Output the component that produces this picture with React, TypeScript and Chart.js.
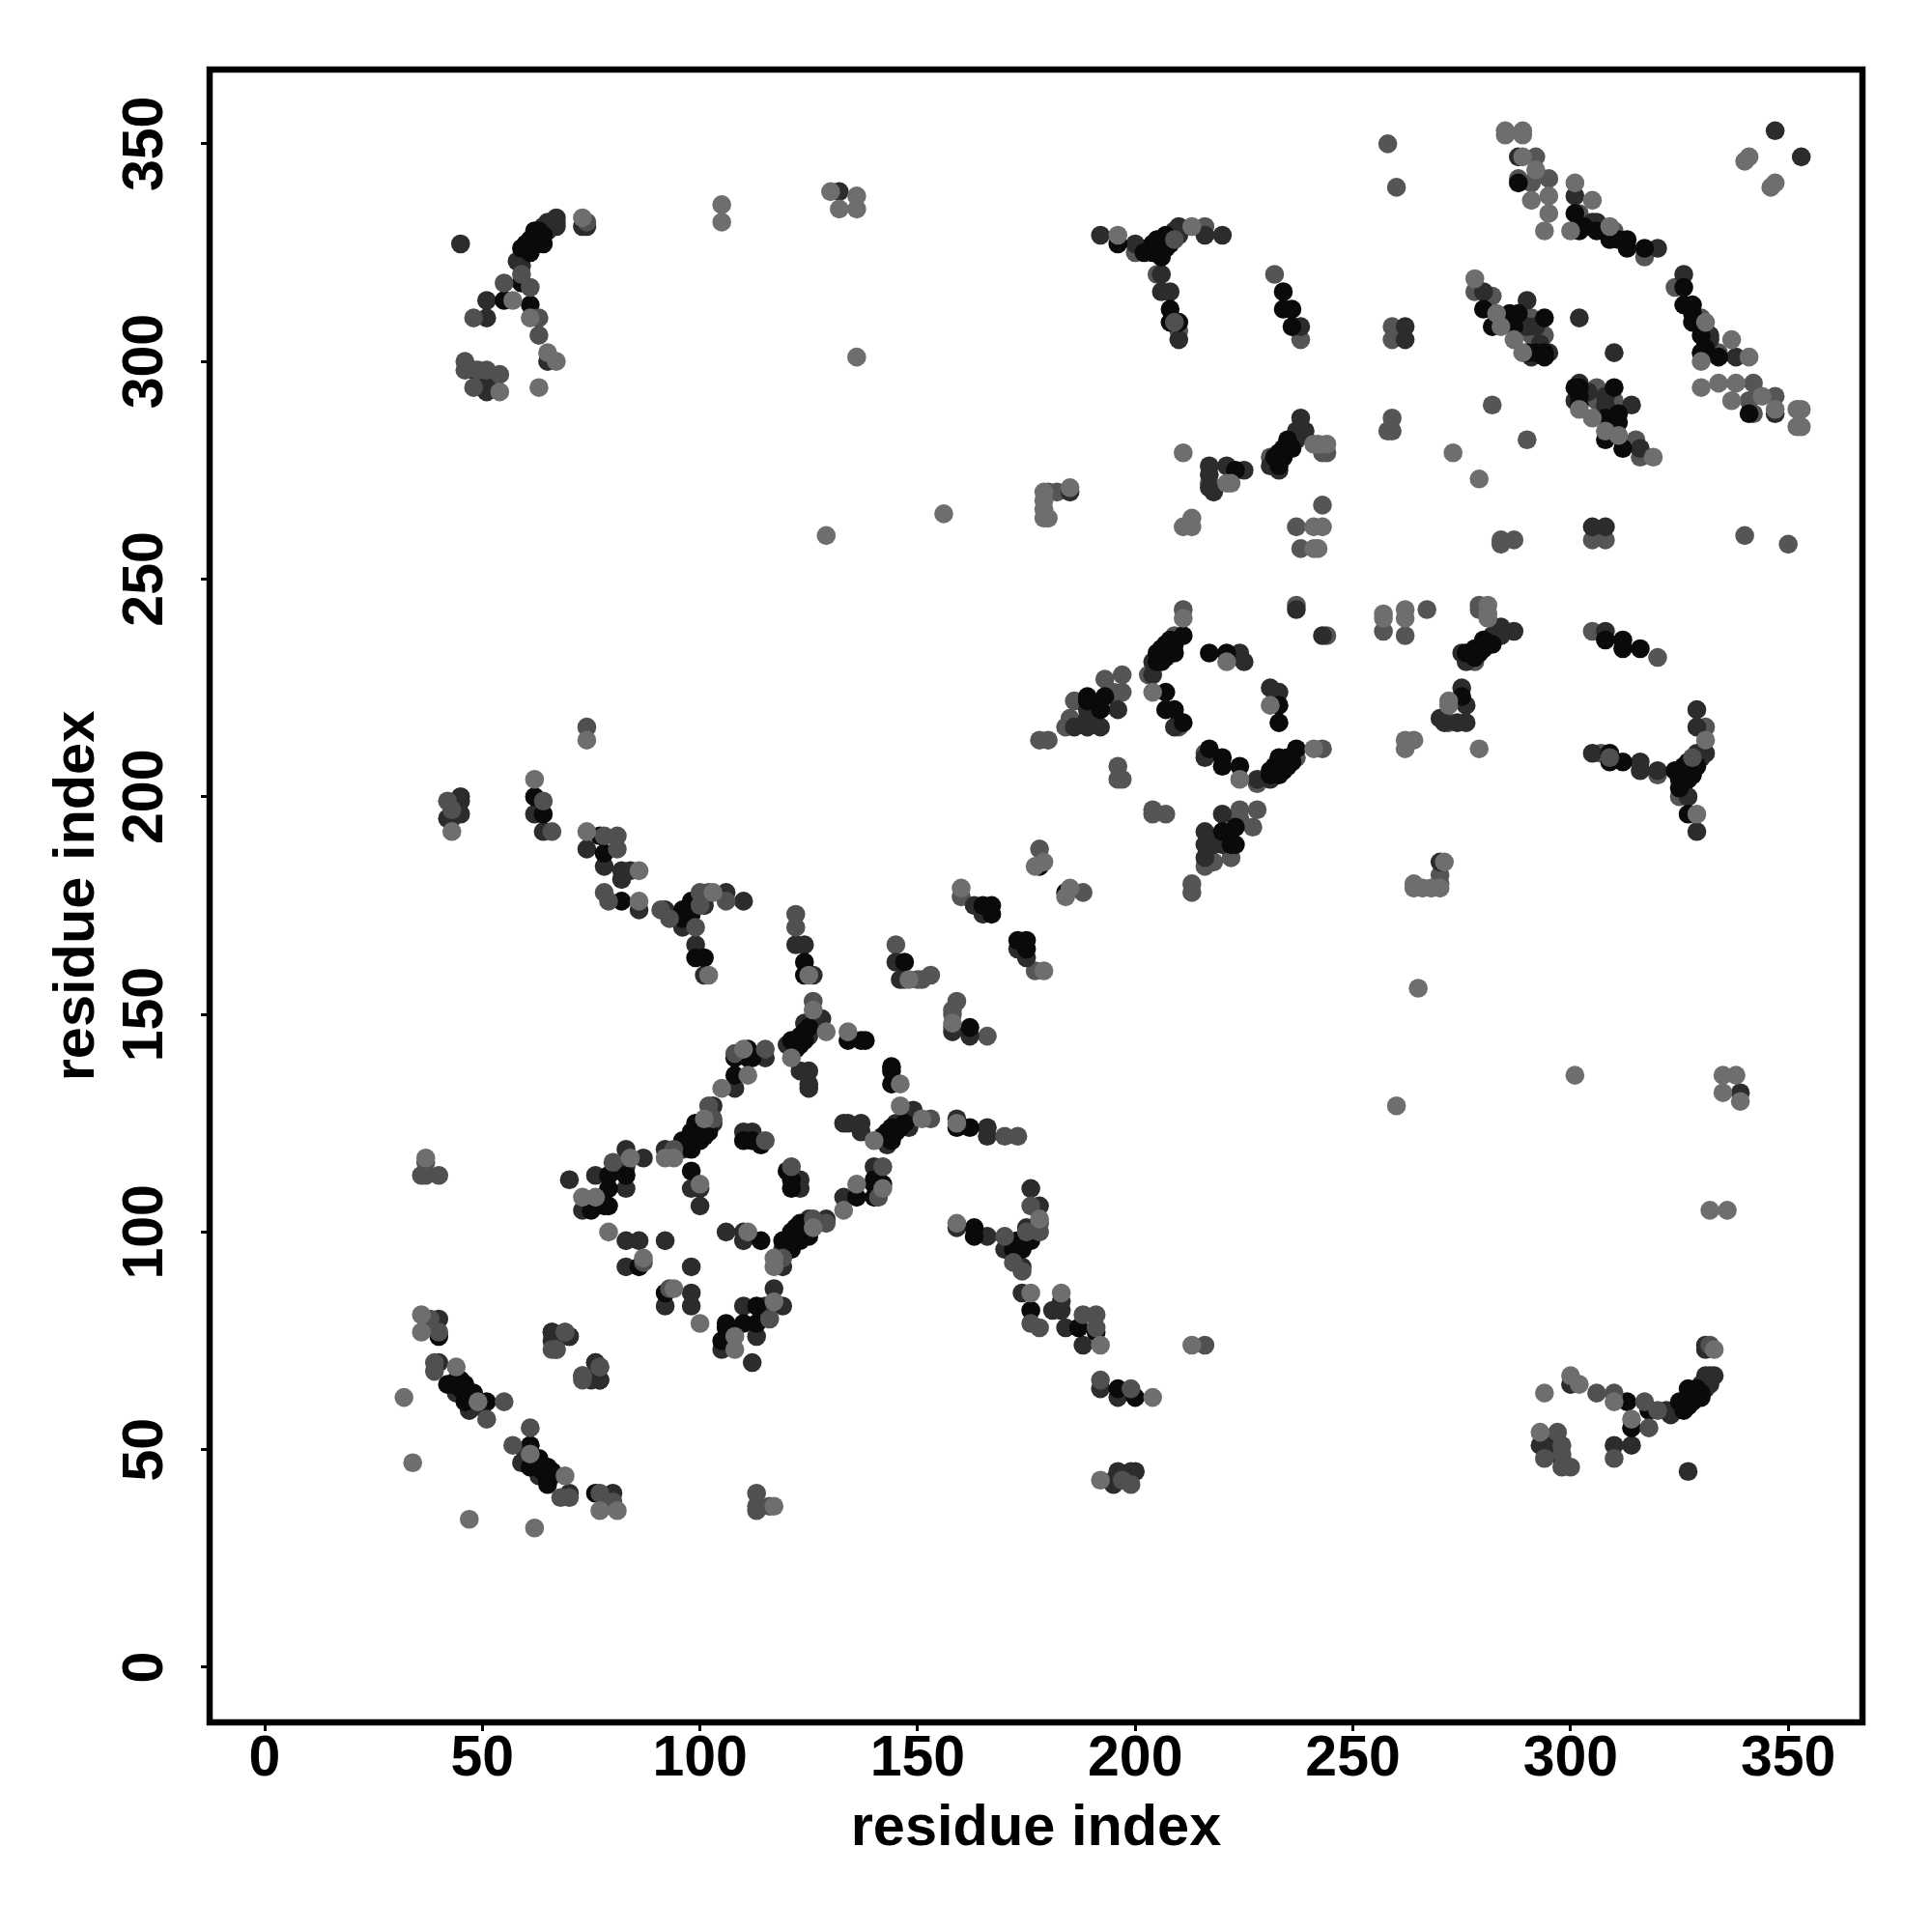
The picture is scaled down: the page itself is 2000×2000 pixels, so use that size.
import React, { useEffect, useRef } from "react";
import { Chart, registerables } from "chart.js";

Chart.register(...registerables);

const axisTitle = "residue index";
const tickValues = [0, 50, 100, 150, 200, 250, 300, 350];
const axisMin = -12.65;
const axisMax = 367.05;

// Contacts as [residue i, residue j] with i < j.
// The map is symmetric: each contact also appears as [j, i].
const lightContacts = [
  [37,117],[84,117],[73,108],[76,108],[92,117],[94,117],[101,126],[105,133],[100,111],[87,94],[44,69],[49,61],
  [111,136],[110,142],[121,140],[129,146],[134,146],[126,151],[43,192],[74,213],[62,204],[74,192],[86,183],[86,176],
  [103,178],[102,159],[125,159],[57,314],[61,310],[65,302],[67,300],[54,293],[63,294],[73,333],[132,335],[136,338],
  [130,339],[105,336],[105,332],[136,301],[129,260],[160,179],[179,185],[177,184],[148,158],[204,224],[211,241],
  [221,231],[196,329],[213,331],[221,272],[222,272],[179,270],[179,268],[179,266],[179,264],[180,264],[185,271],
  [241,281],[242,281],[244,281],[211,279],[285,353],[289,353],[289,347],[292,344],[291,337],[295,338],[295,334],
  [294,330],[301,341],[305,337],[300,330],[309,331],[278,319],[283,311],[284,308],[287,305],[289,302],[340,346],
  [341,347],[36,81],[36,77],[79,100],[34,47],[32,62],[211,262],[213,262],[213,264],[241,262],
  [243,262],[241,257],[242,257],[156,265],[273,279],[136,335],[289,352],[285,352],
];

const midTopContacts = [
  [37,116],[38,80],[80,116],[87,93],[115,121],[42,199],[43,197],[64,199],[66,192],[78,191],[81,191],[81,188],[93,172],
  [99,170],[100,178],[102,178],[100,175],[126,153],[115,142],[108,141],[61,317],[55,318],[74,332],[63,310],[54,297],
  [51,298],[49,298],[46,300],[46,298],[48,310],[48,294],[66,73],[67,73],[69,77],[77,69],[73,67],[39,70],[39,68],
  [55,61],[51,57],[78,178],[79,176],[91,174],[106,176],[122,173],[122,170],[74,216],[36,113],[37,113],[40,113],
  [40,77],[94,119],[102,129],[103,126],[63,306],[59,320],[209,328],[209,309],
];

const blackContacts = [
  [79,113],[79,110],[83,113],[75,105],[79,106],[78,106],[98,119],[96,121],[98,121],[100,121],[98,123],[100,123],
  [102,123],[99,125],[101,125],[108,136],[108,140],[111,140],[112,140],[111,142],[123,143],[122,142],[123,145],
  [125,147],[124,146],[134,144],[137,144],[138,144],[110,121],[112,121],[114,120],[98,114],[86,92],[40,76],[42,65],
  [46,65],[48,63],[51,61],[46,61],[62,200],[64,196],[77,191],[78,187],[82,176],[96,174],[96,172],[98,176],[98,173],
  [99,163],[101,163],[124,162],[124,159],[59,326],[60,327],[61,328],[62,330],[64,329],[63,328],[64,327],[61,325],
  [59,318],[55,314],[61,313],[178,184],[147,162],[165,175],[167,175],[167,173],[189,222],[189,223],[193,223],
  [192,220],[207,224],[207,220],[209,220],[211,217],[211,237],[208,236],[208,233],[206,234],[207,232],[206,231],
  [217,233],[221,233],[196,327],[204,327],[202,325],[204,325],[206,327],[206,324],[207,329],[208,327],[208,312],
  [208,309],[210,309],[234,316],[234,312],[236,312],[236,308],[233,279],[234,280],[235,280],[232,278],[233,276],
  [223,275],[302,330],[306,330],[309,328],[313,328],[313,326],[317,326],[301,334],[288,341],[280,312],[286,311],
  [288,311],[294,310],[282,308],[287,308],[290,302],[294,302],[294,301],
  [60,326],[62,328],[63,330],[62,327],[205,326],[205,328],[207,326],[234,278],[235,282],[236,280],[233,278],
  [97,120],[99,122],[101,122],[121,144],[122,144],[124,144],[205,233],[207,235],[209,235],[205,231],[209,233],
  [43,65],[45,64],[47,62],[45,66],[303,331],[311,328],[292,302],
];

const darkContacts = [
  [45,327],[70,112],[76,113],[83,119],[87,117],[83,115],[83,110],[73,105],[92,119],[96,119],[103,125],[103,129],
  [108,133],[115,140],[120,143],[125,145],[126,149],[128,149],[125,137],[123,137],[125,134],[125,133],[110,123],
  [112,123],[98,110],[100,110],[100,106],[83,98],[86,98],[92,98],[83,92],[40,80],[66,77],[70,76],[76,70],[77,66],
  [75,66],[40,70],[44,66],[44,63],[48,60],[47,59],[42,195],[45,200],[45,199],[45,196],[43,195],[62,196],[64,192],
  [74,188],[78,184],[82,183],[82,181],[84,183],[86,174],[92,174],[96,170],[101,175],[99,166],[101,159],[106,178],
  [110,176],[122,166],[124,166],[126,159],[51,314],[51,310],[65,300],[48,298],[51,295],[51,293],[59,324],[59,322],
  [58,323],[67,333],[67,332],[67,331],[66,331],[65,330],[73,331],[74,331],[132,339],[145,162],[146,158],[163,175],
  [165,173],[186,216],[189,220],[189,216],[189,218],[192,216],[196,220],[204,228],[209,216],[204,231],[224,233],
  [225,231],[237,243],[192,329],[200,327],[210,331],[210,329],[216,329],[220,329],[206,320],[206,316],[208,316],
  [210,305],[238,308],[238,287],[239,284],[237,284],[236,282],[233,275],[217,276],[221,276],[225,275],[217,274],
  [218,270],[217,271],[185,270],[288,347],[280,316],[290,314],[291,301],[295,302],[302,310],[305,332],[306,332],
  [320,326],[262,308],[262,305],[347,353],[301,338],
  [64,331],[65,332],[66,332],[203,326],[209,330],[237,282],[231,276],[125,148],[124,148],[49,60],[304,331],[307,331],
  [293,304],[290,308],[292,308],[288,308],
];

const midContacts = [
  [145,166],[147,158],[150,158],[151,158],[153,159],[160,177],[178,188],[178,213],[180,213],[186,222],[185,218],
  [184,216],[193,227],[197,228],[197,224],[195,224],[196,207],[196,204],[197,204],[211,243],[209,237],[203,228],
  [210,216],[237,244],[200,325],[205,320],[216,331],[210,307],[232,320],[238,305],[231,278],[244,279],[243,279],
  [217,272],[182,270],[180,270],[243,267],[237,262],[238,257],[258,350],[260,340],[292,347],[288,342],[291,341],
  [295,342],[302,334],[302,332],[310,330],[317,324],[278,316],[282,315],[291,310],[291,306],[294,306],[282,290],
  [259,287],[258,284],[259,284],[259,308],[259,305],
];

const mirrored = (pairs: number[][]) =>
  pairs.flatMap(([i, j]) => [{ x: i, y: j }, { x: j, y: i }]);

const dataset = (pairs: number[][], color: string) => ({
  data: mirrored(pairs),
  showLine: false,
  pointRadius: 9.8,
  pointHoverRadius: 9.8,
  pointBorderWidth: 0,
  pointBackgroundColor: color,
  backgroundColor: color,
  borderColor: color,
  clip: false,
});

const framePlugin = {
  id: "frame",
  afterDatasetsDraw(chart: Chart) {
    const { left, top, width, height } = chart.chartArea;
    const ctx = chart.ctx;
    ctx.save();
    ctx.strokeStyle = "#000";
    ctx.lineWidth = 6.5;
    ctx.lineJoin = "miter";
    ctx.strokeRect(left, top, width, height);
    ctx.restore();
  },
};

const fontFamily = '"Liberation Sans", Arial, sans-serif';

export default function App() {
  const canvasRef = useRef<HTMLCanvasElement>(null);

  useEffect(() => {
    const canvas = canvasRef.current;
    if (!canvas) return;
    const setTicks = (scale: any) => {
      scale.ticks = tickValues.map((value) => ({ value }));
    };
    const sharedGrid = {
      display: true,
      drawOnChartArea: false,
      drawTicks: true,
      tickLength: 9,
      tickWidth: 3,
      tickColor: "#000",
    };
    const chart = new Chart(canvas, {
      type: "scatter",
      plugins: [framePlugin],
      data: {
        datasets: [
          dataset(lightContacts, "#6e6e6e"),
          dataset(midTopContacts, "#505050"),
          dataset(blackContacts, "#0a0a0a"),
          dataset(darkContacts, "#2c2c2c"),
          dataset(midContacts, "#555555"),
        ],
      },
      options: {
        animation: false,
        responsive: false,
        devicePixelRatio: 1,
        layout: { padding: { left: 0, top: 72, right: 72, bottom: 0 } },
        plugins: { legend: { display: false }, tooltip: { enabled: false } },
        scales: {
          x: {
            type: "linear",
            min: axisMin,
            max: axisMax,
            afterBuildTicks: setTicks,
            afterFit: (scale: any) => {
              scale.height = 217;
            },
            grid: sharedGrid,
            border: { display: false },
            ticks: {
              autoSkip: false,
              maxRotation: 0,
              minRotation: 0,
              padding: -6,
              color: "#000",
              font: { family: fontFamily, size: 59, weight: "bold" },
            },
            title: {
              display: true,
              text: axisTitle,
              color: "#000",
              padding: { top: 71, bottom: 71 },
              font: { family: fontFamily, size: 59.5, weight: "bold" },
            },
          },
          y: {
            type: "linear",
            min: axisMin,
            max: axisMax,
            afterBuildTicks: setTicks,
            afterFit: (scale: any) => {
              scale.width = 217;
            },
            grid: sharedGrid,
            border: { display: false },
            ticks: {
              autoSkip: false,
              maxRotation: 90,
              minRotation: 90,
              padding: 7,
              crossAlign: "center",
              color: "#000",
              font: { family: fontFamily, size: 59, weight: "bold" },
            },
            title: {
              display: true,
              text: axisTitle,
              color: "#000",
              padding: { top: 45, bottom: 45 },
              font: { family: fontFamily, size: 59.5, weight: "bold" },
            },
          },
        },
      },
    } as any);
    return () => chart.destroy();
  }, []);

  return (
    <div style={{ position: "absolute", left: 0, top: 0, width: 2000, height: 2000, background: "#fff" }}>
      <canvas ref={canvasRef} width={2000} height={2000} style={{ display: "block", width: 2000, height: 2000 }} />
    </div>
  );
}
